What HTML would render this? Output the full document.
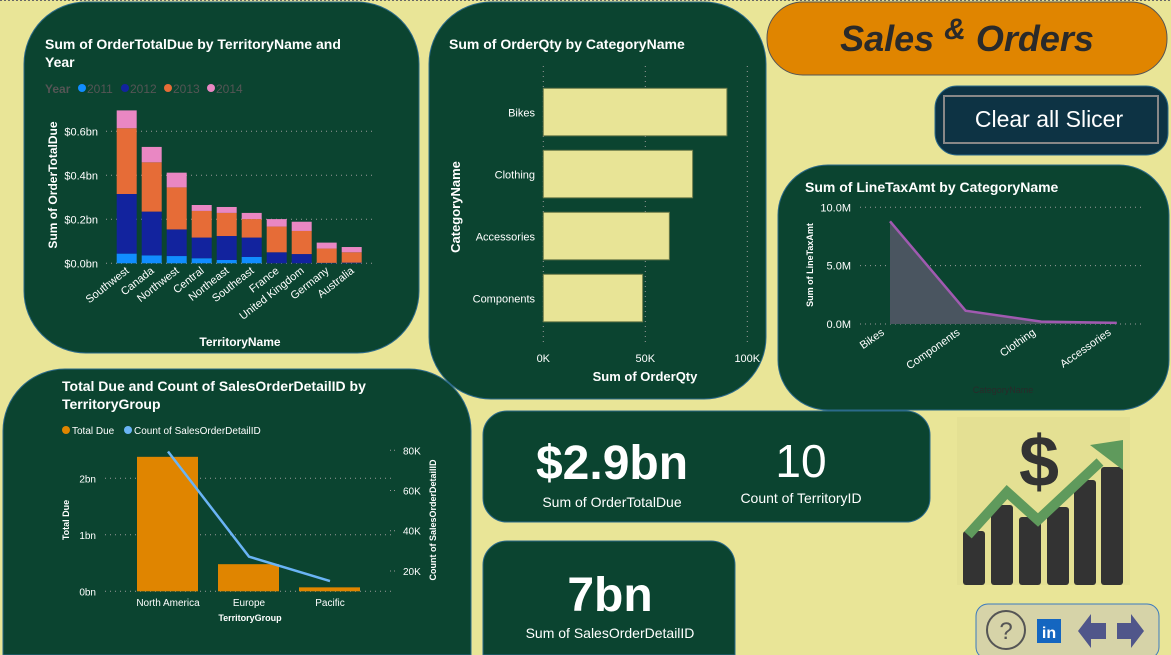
<!DOCTYPE html>
<html><head><meta charset="utf-8"><style>
html,body{margin:0;padding:0;background:#e9e597;overflow:hidden;width:1171px;height:655px}
svg{display:block;font-family:"Liberation Sans",sans-serif}
</style></head><body>
<svg id="s" width="1171" height="655" viewBox="0 0 1171 655">
<line x1="0" y1="0.5" x2="1171" y2="0.5" stroke="#666" stroke-dasharray="2,2"/>
<rect x="24" y="2" width="395" height="351" rx="62" fill="#0b4430" stroke="#2b6a8a"/>
<rect x="429" y="2" width="337" height="397" rx="62" fill="#0b4430" stroke="#2b6a8a"/>
<rect x="778" y="165" width="391" height="245" rx="50" fill="#0b4430" stroke="#2b6a8a"/>
<path d="M3,655 L3,431 A62,62 0 0 1 65,369 L409,369 A62,62 0 0 1 471,431 L471,655 Z" fill="#0b4430" stroke="#2b6a8a"/>
<rect x="483" y="411" width="447" height="111" rx="24" fill="#0b4430" stroke="#2b6a8a"/>
<path d="M483,655 L483,565 A24,24 0 0 1 507,541 L711,541 A24,24 0 0 1 735,565 L735,655 Z" fill="#0b4430" stroke="#2b6a8a"/>
<rect x="767" y="2" width="400" height="73" rx="36" fill="#e08500" stroke="#555"/>
<text x="967" y="51" text-anchor="middle" font-size="36" font-weight="bold" font-style="italic" fill="#2a2a2a">Sales <tspan font-size="30" dy="-12">&amp;</tspan><tspan dy="12"> Orders</tspan></text>
<g>
<rect x="935" y="86" width="233" height="69" rx="22" fill="#0d3344" stroke="#2b6a8a"/>
<rect x="944" y="96" width="214" height="47" fill="none" stroke="#888" stroke-width="2"/>
<text x="1049" y="127" text-anchor="middle" font-size="23" fill="#fff">Clear all Slicer</text>
</g>
<g>
<text x="612" y="479" text-anchor="middle" font-size="48" font-weight="bold" fill="#fff">$2.9bn</text>
<text x="612" y="507" text-anchor="middle" font-size="14" fill="#fff">Sum of OrderTotalDue</text></g>
<g>
<text x="801" y="477" text-anchor="middle" font-size="46" fill="#fff">10</text>
<text x="801" y="503" text-anchor="middle" font-size="14" fill="#fff">Count of TerritoryID</text></g>
<g>
<text x="610" y="611" text-anchor="middle" font-size="48" font-weight="bold" fill="#fff">7bn</text>
<text x="610" y="638" text-anchor="middle" font-size="14" fill="#fff">Sum of SalesOrderDetailID</text></g>
<g>
<rect x="957" y="417" width="173" height="168" fill="#e4e093"/>
<rect x="963" y="531" width="22" height="54" rx="3" fill="#333"/>
<rect x="991" y="505" width="22" height="80" rx="3" fill="#333"/>
<rect x="1019" y="517" width="22" height="68" rx="3" fill="#333"/>
<rect x="1047" y="507" width="22" height="78" rx="3" fill="#333"/>
<rect x="1074" y="480" width="22" height="105" rx="3" fill="#333"/>
<rect x="1101" y="467" width="22" height="118" rx="3" fill="#333"/>
<polyline points="968,535 1007,492 1038,520 1100,462" fill="none" stroke="#5f9a5c" stroke-width="10"/>
<polygon points="1090,445 1123,440 1123,470" fill="#5f9a5c"/>
<text x="1039" y="486" text-anchor="middle" font-size="72" font-weight="bold" fill="#333">$</text></g>
<rect x="976" y="604" width="183" height="55" rx="12" fill="#d6d3a8" stroke="#3a7abf"/>
<g><circle cx="1006" cy="630" r="19" fill="none" stroke="#555" stroke-width="2"/><text x="1006" y="639" text-anchor="middle" font-size="24" fill="#555">?</text></g>
<g><rect x="1037" y="619" width="24" height="24" fill="#1466c0"/><text x="1049" y="638" text-anchor="middle" font-size="16" font-weight="bold" fill="#fff">in</text></g>
<polygon points="1078,631 1091,614 1091,623 1106,623 1106,639 1091,639 1091,648" fill="#50568a"/>
<polygon points="1144,631 1131,614 1131,623 1117,623 1117,639 1131,639 1131,648" fill="#50568a"/>
</svg>
<script>
// Chart 1 data
const territories=["Southwest","Canada","Northwest","Central","Northeast","Southeast","France","United Kingdom","Germany","Australia"];
const years=["2011","2012","2013","2014"];
const v2011=[0.044,0.036,0.033,0.023,0.015,0.029,0,0,0,0];
const v2012=[0.271,0.199,0.121,0.094,0.109,0.088,0.05,0.042,0.002,0.003];
const v2013=[0.299,0.224,0.191,0.121,0.105,0.084,0.117,0.105,0.065,0.047];
const v2014=[0.081,0.070,0.067,0.027,0.027,0.028,0.034,0.042,0.027,0.024];
const yTicks1=["$0.0bn","$0.2bn","$0.4bn","$0.6bn"];
// Chart 2 data
const cats2=["Bikes","Clothing","Accessories","Components"];
const qty=[90000,73200,61800,48700];
const xTicks2=["0K","50K","100K"];
// Chart 3 data
const cats3=["Bikes","Components","Clothing","Accessories"];
const taxAmt=[8.8,1.14,0.2,0.1];
const yTicks3=["0.0M","5.0M","10.0M"];
// Chart 4 data
const groups=["North America","Europe","Pacific"];
const totalDue=[2.38,0.48,0.07];
const countIds=[79400,27100,15000];
const yTicksL=["0bn","1bn","2bn"];
const yTicksR=["20K","40K","60K","80K"];

const S=document.getElementById('s');const NS="http://www.w3.org/2000/svg";
function mk(t,a,txt){const e=document.createElementNS(NS,t);for(const k in a)e.setAttribute(k,a[k]);if(txt!=null)e.textContent=txt;S.appendChild(e);return e;}
const W="#fff";

// ---- Chart 1
const y1=v=>263.3-v*220, x1=i=>116.7+i*25;
mk('text',{x:45,y:49,'font-size':14,'font-weight':'bold',fill:W},"Sum of OrderTotalDue by TerritoryName and");
mk('text',{x:45,y:67,'font-size':14,'font-weight':'bold',fill:W},"Year");
const legCols=["#118dff","#12239e","#e66c37","#e987c3"];
let lt=mk('text',{x:45,y:93,'font-size':12,'font-weight':'bold',fill:'#555'},"Year");


years.forEach((y,i)=>{const lx=82+i*43;
 const c=mk('circle',{cx:lx,cy:88,r:4,fill:legCols[i]});
 
 
 mk('text',{x:lx+5,y:93,'font-size':12,fill:'#555'},y);});
[0,0.2,0.4,0.6].forEach((v,i)=>{const yy=y1(v);
 mk('line',{x1:106,x2:372,y1:yy,y2:yy,stroke:'#9a9a9a','stroke-dasharray':'1,4'});
 const t=mk('text',{x:98,y:yy+4,'font-size':11,'text-anchor':'end',fill:W},yTicks1[i]);
 
 });
const ys=mk('text',{x:0,y:0,'font-size':12,'font-weight':'bold',fill:W,'text-anchor':'middle',transform:'translate(57,185) rotate(-90)'},"Sum of OrderTotalDue");


const series=[v2011,v2012,v2013,v2014];
territories.forEach((t,i)=>{let base=0;
 series.forEach((s,j)=>{const v=s[i];if(v>0){const r=mk('rect',{x:x1(i),y:y1(base+v),width:20,height:v*220,fill:legCols[j]});
  
  }
  base+=v;});
 const lab=mk('text',{x:0,y:0,'font-size':11,fill:W,'text-anchor':'end',transform:`translate(${x1(i)+13},${272}) rotate(-38)`},t);
 
 });
const xt1=mk('text',{x:240,y:346,'font-size':12,'font-weight':'bold',fill:W,'text-anchor':'middle'},"TerritoryName");



// ---- Chart 2
const x2=v=>543.3+v*204/100000;
mk('text',{x:449,y:49,'font-size':14,'font-weight':'bold',fill:W},"Sum of OrderQty by CategoryName");
[0,50000,100000].forEach((v,i)=>{const xx=x2(v);
 mk('line',{x1:xx,x2:xx,y1:66,y2:345,stroke:'#9a9a9a','stroke-dasharray':'1,4'});
 const t=mk('text',{x:xx,y:362,'font-size':11,'text-anchor':'middle',fill:W},xTicks2[i]);
 
 });
cats2.forEach((c,i)=>{const yy=88.3+i*62;
 const r=mk('rect',{x:x2(0),y:yy,width:x2(qty[i])-x2(0),height:47.5,fill:'#e8e496',stroke:'#6a7a4a'});
 
 
 const t=mk('text',{x:535,y:yy+28,'font-size':11,'text-anchor':'end',fill:W},c);
 
 });
const y2t=mk('text',{x:0,y:0,'font-size':13,'font-weight':'bold',fill:W,'text-anchor':'middle',transform:'translate(460,207) rotate(-90)'},"CategoryName");


const x2t=mk('text',{x:645,y:381,'font-size':13,'font-weight':'bold',fill:W,'text-anchor':'middle'},"Sum of OrderQty");



// ---- Chart 3
const y3=v=>324-v*11.67, x3=i=>890+i*75.6;
mk('text',{x:805,y:192,'font-size':14,'font-weight':'bold',fill:W},"Sum of LineTaxAmt by CategoryName");
[0,5,10].forEach((v,i)=>{const yy=y3(v);
 mk('line',{x1:860,x2:1143,y1:yy,y2:yy,stroke:'#9a9a9a','stroke-dasharray':'1,4'});
 const t=mk('text',{x:851,y:yy+4,'font-size':11,'text-anchor':'end',fill:W},yTicks3[i]);
 
 });
let pts=taxAmt.map((v,i)=>x3(i)+','+y3(v)).join(' ');
const ar=mk('polygon',{points:x3(0)+','+y3(0)+' '+pts+' '+x3(taxAmt.length-1)+','+y3(0),fill:'#4a5560'});


const ln=mk('polyline',{points:pts,fill:'none',stroke:'#a05ab0','stroke-width':2.5});


cats3.forEach((c,i)=>{const t=mk('text',{x:0,y:0,'font-size':11,fill:W,'text-anchor':'end',transform:`translate(${x3(i)-5},${334}) rotate(-35)`},c);
 
 });
const y3t=mk('text',{x:0,y:0,'font-size':9,'font-weight':'bold',fill:W,'text-anchor':'middle',transform:'translate(813,265) rotate(-90)'},"Sum of LineTaxAmt");


const x3t=mk('text',{x:1003,y:393,'font-size':9,fill:'#2a2a2a','text-anchor':'middle'},"CategoryName");



// ---- Chart 4
const yL=v=>591.3-v*56.5, yR=v=>611.2-v*120.7/60000, x4=i=>168+i*81;
mk('text',{x:62,y:391,'font-size':14,'font-weight':'bold',fill:W},"Total Due and Count of SalesOrderDetailID by");
mk('text',{x:62,y:409,'font-size':14,'font-weight':'bold',fill:W},"TerritoryGroup");
let c1=mk('circle',{cx:66,cy:430,r:4,fill:'#e08500'});


mk('text',{x:72,y:434,'font-size':10,fill:W},"Total Due");
let c2=mk('circle',{cx:128,cy:430,r:4,fill:'#6ab4f5'});


mk('text',{x:134,y:434,'font-size':10,fill:W},"Count of SalesOrderDetailID");
[0,1,2].forEach((v,i)=>{const yy=yL(v);
 mk('line',{x1:105,x2:393,y1:yy,y2:yy,stroke:'#9a9a9a','stroke-dasharray':'1,4'});
 const t=mk('text',{x:96,y:yy+4,'font-size':10,'text-anchor':'end',fill:W},yTicksL[i]);
 
 });
[20000,40000,60000,80000].forEach((v,i)=>{const yy=yR(v);
 mk('line',{x1:390,x2:397,y1:yy,y2:yy,stroke:'#9a9a9a','stroke-dasharray':'1,3'});
 const t=mk('text',{x:403,y:yy+4,'font-size':10,fill:W},yTicksR[i]);
 
 });
groups.forEach((g,i)=>{const r=mk('rect',{x:x4(i)-31,y:yL(totalDue[i]),width:61,height:totalDue[i]*56.5,fill:'#e08500'});
 
 
 const t=mk('text',{x:x4(i),y:606,'font-size':10,'text-anchor':'middle',fill:W},g);
 
 });
const l4=mk('polyline',{points:countIds.map((v,i)=>x4(i)+','+yR(v)).join(' '),fill:'none',stroke:'#6ab4f5','stroke-width':2.5});


const xt4=mk('text',{x:250,y:621,'font-size':9,'font-weight':'bold',fill:W,'text-anchor':'middle'},"TerritoryGroup");


const yl4=mk('text',{x:0,y:0,'font-size':9,'font-weight':'bold',fill:W,'text-anchor':'middle',transform:'translate(69,520) rotate(-90)'},"Total Due");


const yr4=mk('text',{x:0,y:0,'font-size':9,'font-weight':'bold',fill:W,'text-anchor':'middle',transform:'translate(436,520) rotate(-90)'},"Count of SalesOrderDetailID");


</script>
</body></html>
